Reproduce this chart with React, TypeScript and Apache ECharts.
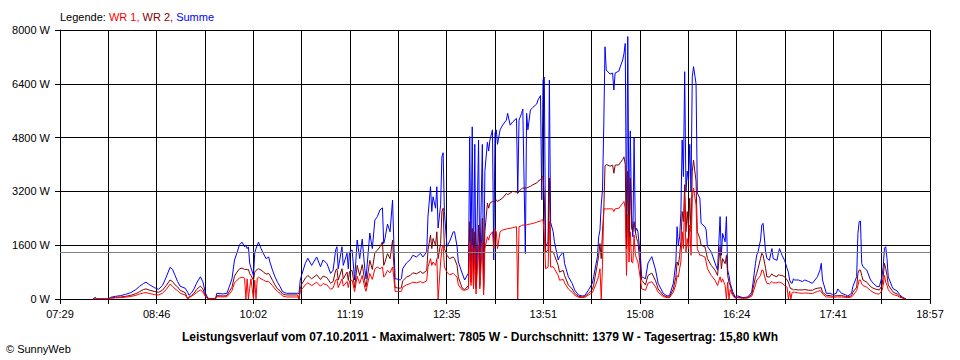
import React, { useEffect, useRef } from "react";
import * as echarts from "echarts";

const X_LABELS = ["07:29", "08:46", "10:02", "11:19", "12:35", "13:51", "15:08", "16:24", "17:41", "18:57"];
const AXIS_START = "07:29";
const AXIS_END = "18:57";
const Y_MAX = 8000;
const Y_STEP = 1600;
const AVERAGE = 1379;

const TIMES = [
  "07:55","07:57","07:58","08:07","08:09","08:13","08:17","08:21","08:25","08:29",
  "08:32","08:35","08:37","08:40","08:44","08:47","08:50","08:53","08:56","08:58",
  "09:00","09:02","09:04","09:08","09:10","09:11","09:13","09:15","09:17","09:20",
  "09:22","09:24","09:26","09:32","09:33","09:38","09:41","09:43","09:45","09:47",
  "09:49","09:51","09:53","09:55","09:56","09:57","09:58","09:59","10:00","10:02",
  "10:03","10:04","10:05","10:06","10:08","10:10","10:12","10:14","10:15","10:17",
  "10:19","10:21","10:23","10:25","10:28","10:37","10:38","10:39","10:40","10:43",
  "10:45","10:48","10:52","10:55","10:57","11:00","11:03","11:05","11:07","11:08",
  "11:09","11:12","11:13","11:16","11:17","11:18","11:20","11:22","11:24","11:26",
  "11:28","11:30","11:31","11:34","11:36","11:38","11:40","11:42","11:44","11:45",
  "11:46","11:48","11:50","11:52","11:53","11:54","11:56","11:58","11:59","12:00",
  "12:03","12:06","12:08","12:11","12:14","12:16","12:19","12:20","12:22","12:23",
  "12:24","12:26","12:27","12:28","12:30","12:31","12:32","12:33","12:35","12:37",
  "12:40","12:41","12:43","12:44","12:47","12:49","12:52","12:53","12:54","12:55",
  "12:56","12:57","12:58","13:00","13:01","13:03","13:04","13:05","13:07","13:08",
  "13:09","13:11","13:12","13:13","13:14","13:15","13:17","13:19","13:22","13:23",
  "13:25","13:27","13:30","13:31","13:32","13:34","13:35","13:37","13:38","13:39",
  "13:41","13:43","13:46","13:47","13:49","13:50","13:51","13:52","13:53","13:55",
  "13:56","13:57","13:59","14:00","14:03","14:04","14:07","14:08","14:11","14:14",
  "14:16","14:19","14:22","14:24","14:27","14:30","14:31","14:34","14:35","14:36",
  "14:37","14:38","14:39","14:40","14:41","14:44","14:46","14:47","14:48","14:51",
  "14:52","14:54","14:55","14:56","14:57","14:58","14:59","15:00","15:01","15:02",
  "15:03","15:04","15:05","15:06","15:08","15:09","15:12","15:14","15:17","15:20",
  "15:22","15:26","15:29","15:31","15:34","15:36","15:37","15:38","15:39","15:40",
  "15:41","15:42","15:43","15:44","15:45","15:46","15:47","15:48","15:49","15:50",
  "15:52","15:53","15:55","15:56","15:59","16:00","16:01","16:04","16:07","16:09",
  "16:11","16:12","16:13","16:15","16:16","16:17","16:18","16:19","16:21","16:23",
  "16:25","16:29","16:33","16:36","16:37","16:39","16:40","16:41","16:43","16:44",
  "16:45","16:47","16:48","16:50","16:52","16:53","16:56","16:57","16:58","17:00",
  "17:02","17:04","17:05","17:06","17:07","17:08","17:09","17:10","17:13","17:16",
  "17:18","17:21","17:24","17:26","17:28","17:30","17:31","17:32","17:35","17:38",
  "17:40","17:43","17:44","17:47","17:50","17:52","17:55","17:56","17:58","17:59",
  "18:00","18:01","18:02","18:03","18:04","18:07","18:10","18:12","18:15","18:17",
  "18:19","18:20","18:21","18:22","18:23","18:24","18:25","18:27","18:28","18:31",
  "18:33","18:35","18:38",
];

const SUMME = [
  0,50,0,0,50,80,100,140,190,280,
  380,460,500,420,330,290,400,650,940,880,
  700,520,380,320,200,110,180,300,470,660,
  510,180,20,10,170,150,170,380,600,1160,
  1380,1620,1690,1550,1600,1500,1550,1070,930,700,
  1370,1500,1600,1690,1500,1340,1200,1250,1100,860,
  660,500,370,220,170,170,160,560,700,1060,
  1210,1000,1250,960,1160,1060,760,860,1460,1555,
  900,1555,1000,1360,900,1400,1460,565,1755,1200,
  1780,900,600,1960,1500,2350,2450,2650,2710,1650,
  1800,2230,2000,2944,1650,600,590,565,600,900,
  1070,1170,1300,1250,1360,1250,1400,2450,3340,2600,
  3040,2700,3340,2110,2800,4230,4350,2600,1560,1700,
  2000,2000,1560,1100,770,565,770,4830,1200,5120,
  770,4600,370,4730,770,4600,370,3800,4660,4400,
  4730,5030,1160,4930,5030,4600,5030,5170,5320,5520,
  5170,5270,5370,3140,5320,5520,5650,1350,5520,5030,
  5620,5700,5800,5920,6050,2950,6510,6600,1560,1700,
  6510,2280,2000,1700,1160,1260,1400,1060,663,467,
  268,120,90,100,270,470,663,1260,1850,2050,
  2800,3240,5120,7500,6810,6690,6720,6215,6720,6780,
  6900,7110,7300,7600,2050,7805,1850,5000,2500,1850,
  4790,2000,2100,2000,1260,663,600,1070,1260,860,
  467,170,90,100,467,1070,2150,1600,1850,2550,
  4730,3640,6760,3200,3800,3500,4600,3200,6610,6910,
  6400,3150,3000,2250,2150,2050,1560,1400,1070,860,
  2450,1300,1950,1700,2450,860,700,467,217,60,
  90,40,60,200,470,1060,1310,1400,1755,2200,
  2250,1400,1210,1150,1500,1200,1150,1350,1500,1300,
  1150,912,800,565,480,470,600,565,565,520,
  565,520,467,565,663,860,1060,565,170,170,
  130,170,300,170,130,90,170,370,565,663,
  1950,2300,2320,1060,960,860,565,470,370,370,
  660,960,1510,1555,1200,660,565,370,300,240,
  130,60,0,
];

const WR2 = [
  0,0,0,0,30,50,60,80,110,160,
  220,280,300,260,220,200,260,400,565,520,
  420,360,260,190,0,60,100,170,280,385,
  300,100,10,5,100,90,100,230,350,680,
  800,900,920,880,880,870,880,760,700,560,
  800,850,880,900,860,800,740,760,700,560,
  420,300,250,150,120,120,0,300,430,620,
  700,600,720,580,680,640,470,520,850,900,
  560,900,600,800,550,820,850,340,1000,700,
  1020,540,360,1150,880,1380,1450,1550,1700,1000,
  1100,1350,1200,1750,1000,340,330,320,340,540,
  650,700,780,750,820,760,850,1450,1900,1500,
  1800,1600,2000,1200,1650,2600,2700,1500,1300,1200,
  1250,1200,1000,650,330,280,400,2300,500,2100,
  350,2000,300,2200,400,2400,270,2000,2850,2700,
  2850,2900,2900,2900,2950,2900,2950,3000,3140,3100,
  3150,3200,3180,3150,3200,3280,3300,3300,3300,3320,
  3350,3400,3450,3500,3550,3600,3650,3000,1400,1450,
  3600,1400,1400,1300,1000,800,850,700,420,300,
  170,80,60,70,170,290,410,1050,1300,1650,
  1200,2000,2600,3950,4000,3950,3980,3740,3980,3990,
  4050,4150,4230,4000,1500,3800,1600,3600,2100,2000,
  2300,2000,1800,1700,900,560,420,700,770,540,
  300,110,60,60,300,650,1100,1000,1300,1700,
  2600,2300,3400,2000,2600,2100,3000,2000,3800,4130,
  3500,2000,1800,1600,1550,1400,1200,1000,860,700,
  1560,900,1200,1050,1300,700,500,400,150,40,
  50,30,40,130,300,650,763,900,1210,1360,
  1300,912,663,650,750,700,663,720,710,700,
  663,565,500,370,300,300,270,280,270,270,
  280,260,260,300,320,330,340,200,110,100,
  80,100,100,100,80,60,100,200,300,350,
  760,860,860,700,565,500,370,320,280,270,
  400,660,1060,900,700,420,360,250,200,150,
  90,40,0,
];

const WR1 = [
  0,0,0,0,20,35,40,55,75,110,
  150,180,190,160,130,120,170,280,440,380,
  300,250,170,120,0,50,80,130,190,270,
  210,70,10,5,70,60,70,150,250,480,
  560,620,650,620,0,600,0,320,600,0,
  560,0,620,650,600,560,520,520,480,400,
  300,220,170,90,60,60,0,230,280,420,
  480,400,500,380,460,420,290,330,560,600,
  340,600,380,520,340,540,560,220,680,460,
  700,340,230,760,580,900,950,900,950,650,
  700,850,780,950,640,230,220,220,230,350,
  420,460,500,480,520,480,540,950,1200,1000,
  1100,1000,1200,0,1100,1500,1600,950,800,720,
  760,720,650,420,270,260,300,1700,400,1600,
  300,1500,150,1600,300,1700,120,1500,1850,1750,
  1900,2000,1500,2070,2000,1500,2000,2050,2080,2100,
  2100,2120,2150,0,2150,2180,2200,2200,2200,2220,
  2230,2250,2280,2300,2320,2350,2350,1900,900,950,
  2300,950,960,900,700,560,580,480,300,200,
  110,50,40,50,120,190,270,560,700,900,
  0,1000,2680,2680,2680,2680,2680,2600,2680,2700,
  2750,2850,2900,2700,700,2500,1100,2000,1100,1070,
  1900,1300,1200,1100,600,300,260,470,515,360,
  200,70,40,40,200,430,700,650,900,1100,
  2000,1500,3000,1400,1800,1500,2200,1300,3000,3300,
  2800,1500,1300,1300,1250,1100,900,700,560,400,
  660,500,600,400,0,500,0,280,100,30,
  40,20,30,80,180,420,565,600,700,860,
  850,560,467,450,520,480,480,500,500,470,
  400,350,0,230,0,200,200,200,180,170,
  180,170,160,200,220,250,220,150,60,60,
  50,60,60,60,50,40,60,100,200,250,
  400,565,565,450,400,350,250,200,150,150,
  250,400,700,500,400,280,230,150,130,100,
  50,30,0,
];

const TITLE_TEXT =
  "Leistungsverlauf vom 07.10.2011 - Maximalwert: 7805 W - Durchschnitt: 1379 W - Tagesertrag: 15,80 kWh";
const FONT = "'Liberation Sans', Arial, sans-serif";

const toMin = (s: string) => {
  const [h, m] = s.split(":").map(Number);
  return h * 60 + m;
};
const START_MIN = toMin(AXIS_START);
const GRID_STEPS = 18;
const STEP_MIN = (toMin(AXIS_END) - START_MIN) / GRID_STEPS;
const toX = (s: string) => (toMin(s) - START_MIN) / STEP_MIN;

const pairs = (vals: number[]) => TIMES.map((t, i) => [toX(t), vals[i]]);

export default function App() {
  const ref = useRef<HTMLDivElement>(null);
  useEffect(() => {
    if (!ref.current) return;
    const chart = echarts.init(ref.current, null, { renderer: "svg" });
    const lineSeries = (name: string, color: string, vals: number[], extra: any = {}) => ({
      name,
      type: "line",
      data: pairs(vals),
      showSymbol: false,
      symbol: "none",
      lineStyle: { color, width: 1 },
      itemStyle: { color },
      ...extra,
    });
    chart.setOption({
      animation: false,
      backgroundColor: "#ffffff",
      textStyle: { fontFamily: FONT },
      grid: { left: 60, right: 30, top: 30, bottom: 61, containLabel: false, outerBoundsMode: "none" },
      xAxis: {
        type: "value",
        min: 0,
        max: GRID_STEPS,
        interval: 1,
        axisLine: { show: true, lineStyle: { color: "#000", width: 1 } },
        axisTick: { show: true, length: 5, lineStyle: { color: "#000" } },
        axisLabel: {
          color: "#000",
          fontSize: 11,
          fontFamily: FONT,
          margin: 9,
          showMinLabel: true,
          showMaxLabel: true,
          formatter: (v: number) => {
            const r = Math.round(v);
            return Math.abs(v - r) < 1e-6 && r % 2 === 0 ? X_LABELS[r / 2] ?? "" : "";
          },
        },
        splitLine: { show: true, lineStyle: { color: "#000", width: 1 } },
      },
      yAxis: {
        type: "value",
        min: 0,
        max: Y_MAX,
        interval: Y_STEP,
        axisLine: { show: true, lineStyle: { color: "#000", width: 1 } },
        axisTick: { show: true, length: 5, lineStyle: { color: "#000" } },
        axisLabel: {
          color: "#000",
          fontSize: 11,
          fontFamily: FONT,
          margin: 10,
          formatter: (v: number) => `${Math.round(v)} W`,
        },
        splitLine: { show: true, lineStyle: { color: "#000", width: 1 } },
      },
      series: [
        lineSeries("Summe", "#0000ff", SUMME),
        lineSeries("WR 2", "#800000", WR2),
        lineSeries("WR 1", "#ff0000", WR1, {
          markLine: {
            silent: true,
            symbol: ["none", "none"],
            label: { show: false },
            lineStyle: { color: "#808080", type: "solid", width: 1 },
            data: [{ yAxis: AVERAGE }],
          },
        }),
      ],
      graphic: [
        {
          type: "text",
          x: 60,
          y: 17,
          style: {
            text: "{a|Legende: }{b|WR 1, }{c|WR 2, }{d|Summe}",
            font: `11px ${FONT}`,
            verticalAlign: "middle",
            rich: {
              a: { fill: "#000", fontSize: 11, fontFamily: FONT },
              b: { fill: "#ff0000", fontSize: 11, fontFamily: FONT },
              c: { fill: "#800000", fontSize: 11, fontFamily: FONT },
              d: { fill: "#0000ff", fontSize: 11, fontFamily: FONT },
            },
          },
        },
        {
          type: "text",
          x: 480,
          y: 337,
          style: {
            text: TITLE_TEXT,
            font: `bold 12px ${FONT}`,
            fill: "#000",
            textAlign: "center",
            verticalAlign: "middle",
          },
        },
        {
          type: "text",
          x: 6,
          y: 349,
          style: {
            text: "© SunnyWeb",
            font: `11px ${FONT}`,
            fill: "#000",
            verticalAlign: "middle",
          },
        },
      ],
    });
    return () => chart.dispose();
  }, []);
  return (
    <div
      ref={ref}
      style={{ position: "absolute", left: 0, top: 0, width: 960, height: 360, background: "#fff" }}
    />
  );
}
